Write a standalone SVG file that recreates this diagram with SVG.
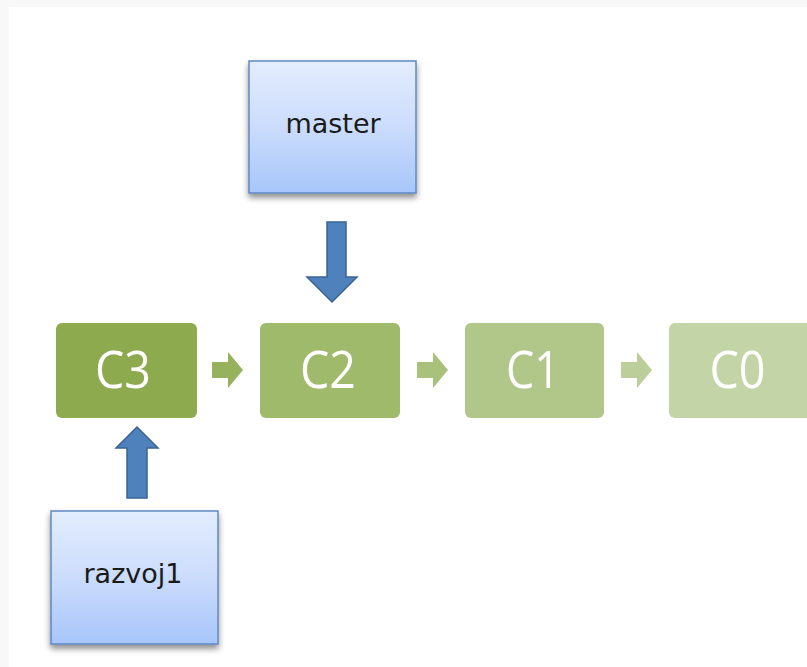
<svg xmlns="http://www.w3.org/2000/svg" width="807" height="667" viewBox="0 0 807 667">
<defs>
<linearGradient id="blueGrad" x1="0" y1="0" x2="0" y2="1">
<stop offset="0" stop-color="#e3edfd"/>
<stop offset="0.5" stop-color="#cbdcfc"/>
<stop offset="1" stop-color="#a7c6fa"/>
</linearGradient>
<filter id="shadow" x="-20%" y="-20%" width="140%" height="150%">
<feGaussianBlur in="SourceAlpha" stdDeviation="3"/>
<feOffset dx="0" dy="4" result="b"/>
<feComponentTransfer><feFuncA type="linear" slope="0.45"/></feComponentTransfer>
<feMerge><feMergeNode/><feMergeNode in="SourceGraphic"/></feMerge>
</filter>
</defs>
<style>
.ref{fill:url(#blueGrad);stroke:#5f88c6;stroke-width:1.5}
.reftxt{font-family:"DejaVu Sans","Liberation Sans",sans-serif;font-size:27px;fill:#1a1a1a;text-anchor:middle}
.ctxt{font-family:"Open Sans","Liberation Sans",sans-serif;font-size:52px;fill:#ffffff;text-anchor:middle}
.barrow{fill:#4f81bd;stroke:#3a6394;stroke-width:1.5}
</style>
<rect x="0" y="0" width="807" height="667" fill="#ffffff"/>
<rect x="0" y="0" width="807" height="7" fill="#f8f8f8"/>
<rect x="0" y="0" width="9" height="667" fill="#f8f8f8"/>

<g id="master">
<rect class="ref" x="249" y="61" width="167" height="132" filter="url(#shadow)"/>
<text class="reftxt" x="333" y="133">master</text>
</g>
<g id="razvoj1">
<rect class="ref" x="51" y="511" width="167" height="133" filter="url(#shadow)"/>
<text class="reftxt" x="133" y="583">razvoj1</text>
</g>
<g id="C3">
<rect x="56" y="323" width="141" height="95" rx="6" fill="#8eaa4e"/>
<text class="ctxt" x="123" y="388" textLength="56" lengthAdjust="spacingAndGlyphs">C3</text>
</g>
<g id="C2">
<rect x="260" y="323" width="140" height="95" rx="6" fill="#a0ba6b"/>
<text class="ctxt" x="328" y="388" textLength="56" lengthAdjust="spacingAndGlyphs">C2</text>
</g>
<g id="C1">
<rect x="465" y="323" width="139" height="95" rx="6" fill="#b1c78a"/>
<text class="ctxt" x="533" y="388" textLength="54" lengthAdjust="spacingAndGlyphs">C1</text>
</g>
<g id="C0">
<rect x="669" y="323" width="145" height="95" rx="6" fill="#c3d5a6"/>
<text class="ctxt" x="737.5" y="388" textLength="56" lengthAdjust="spacingAndGlyphs">C0</text>
</g>
<g id="connectors">
<path class="barrow" d="M327,222 H346 V277 H357 L332,302 L307,277 H327 Z"/>
<path class="barrow" d="M127,498 H147 V448 H158 L137,427 L116,448 H127 Z"/>
<path d="M212,362 H228 V352 L243,370 L228,388 V378 H212 Z" fill="#97b25c"/>
<path d="M417,362 H433 V352 L448,370 L433,388 V378 H417 Z" fill="#a9c17b"/>
<path d="M621,362 H637 V352 L652,370 L637,388 V378 H621 Z" fill="#bccf9a"/>
</g>
</svg>
